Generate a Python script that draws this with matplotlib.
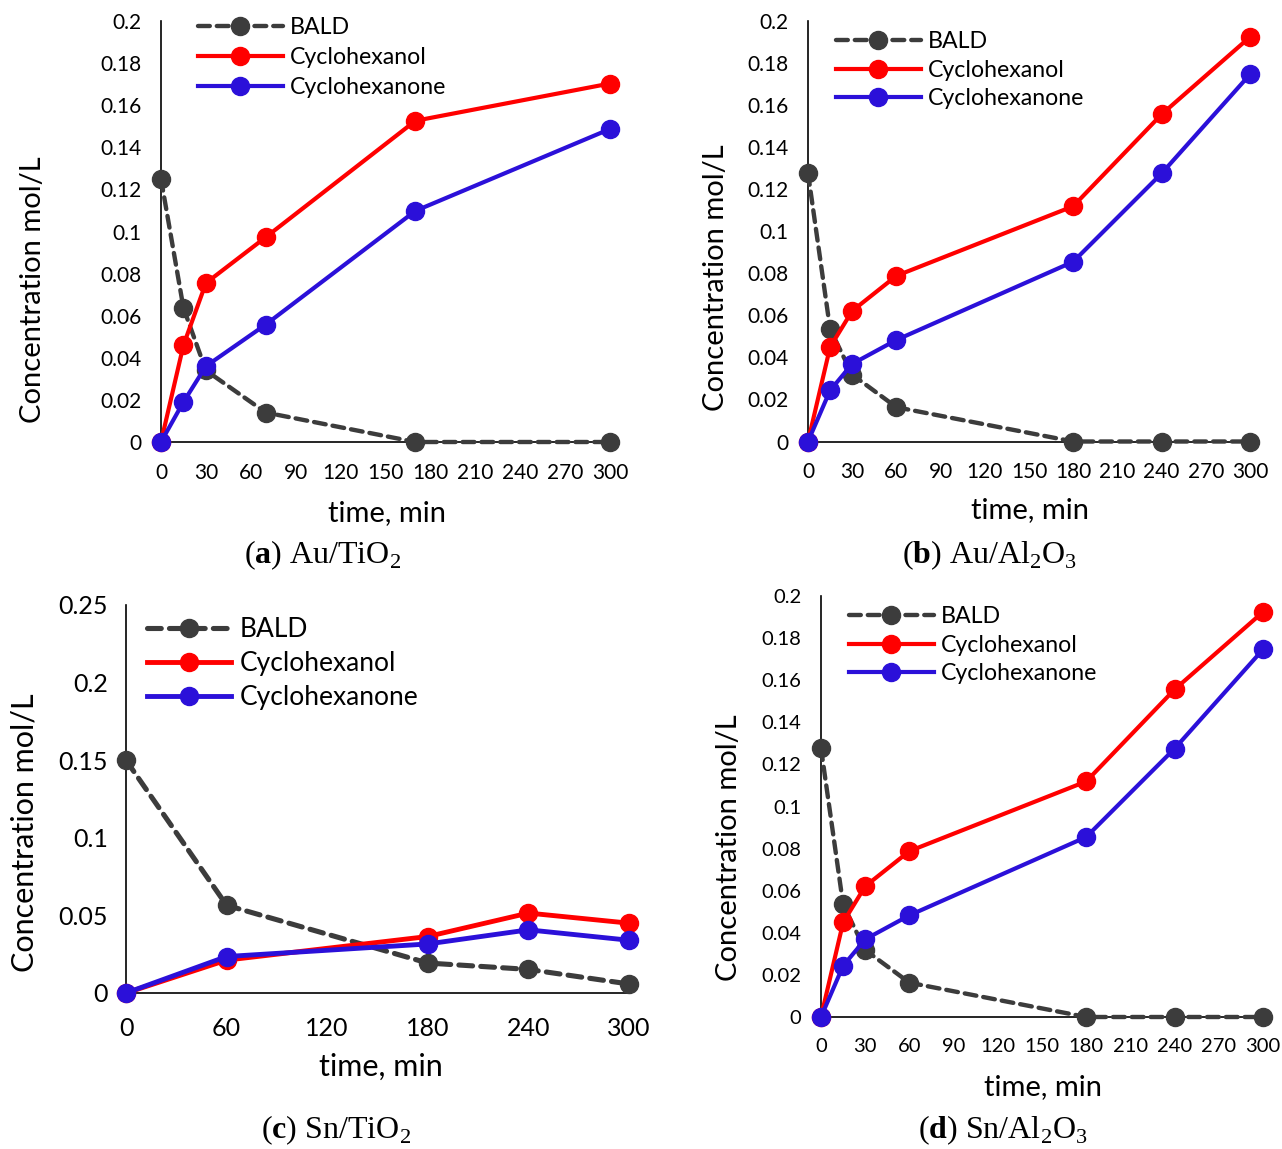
import matplotlib
matplotlib.use("Agg")
import matplotlib.pyplot as plt
from matplotlib.ticker import FixedLocator, FixedFormatter

plt.rcParams['font.family'] = ['Lato', 'DejaVu Sans']
plt.rcParams['mathtext.fontset'] = 'custom'
plt.rcParams['mathtext.rm'] = 'Liberation Serif'
plt.rcParams['mathtext.bf'] = 'Liberation Serif:bold'

series_names = ["BALD", "Cyclohexanol", "Cyclohexanone"]

# (a) Au/TiO2
t_a = [0, 15, 30, 70, 170, 300]
bald_a = [0.125, 0.0637, 0.034, 0.014, 0.0, 0.0]
ol_a = [0.0, 0.046, 0.0755, 0.0973, 0.1526, 0.1703]
one_a = [0.0, 0.019, 0.036, 0.0558, 0.1098, 0.1487]

# (b) Au/Al2O3
t_b = [0, 15, 30, 60, 180, 240, 300]
bald_b = [0.1277, 0.0535, 0.0318, 0.0163, 0.0, 0.0, 0.0]
ol_b = [0.0, 0.0449, 0.0621, 0.0788, 0.1119, 0.1556, 0.1924]
one_b = [0.0, 0.0243, 0.0369, 0.0483, 0.0855, 0.1275, 0.1746]

# (c) Sn/TiO2
t_c = [0, 60, 180, 240, 300]
bald_c = [0.150, 0.0565, 0.0193, 0.0152, 0.0058]
ol_c = [0.0, 0.0212, 0.0364, 0.0515, 0.0450]
one_c = [0.0, 0.0235, 0.0316, 0.0407, 0.0340]

# (d) Sn/Al2O3
t_d = [0, 15, 30, 60, 180, 240, 300]
bald_d = [0.1277, 0.0535, 0.0318, 0.0163, 0.0, 0.0, 0.0]
ol_d = [0.0, 0.0449, 0.0621, 0.0788, 0.1119, 0.1556, 0.1924]
one_d = [0.0, 0.0243, 0.0369, 0.0483, 0.0855, 0.1275, 0.1746]

xticks_fine = [0, 30, 60, 90, 120, 150, 180, 210, 240, 270, 300]
xticks_coarse = [0, 60, 120, 180, 240, 300]
yticks_02 = [0, 0.02, 0.04, 0.06, 0.08, 0.1, 0.12, 0.14, 0.16, 0.18, 0.2]
ylabels_02 = ["0", "0.02", "0.04", "0.06", "0.08", "0.1", "0.12", "0.14", "0.16", "0.18", "0.2"]
yticks_025 = [0, 0.05, 0.1, 0.15, 0.2, 0.25]
ylabels_025 = ["0", "0.05", "0.1", "0.15", "0.2", "0.25"]

captions = [r"($\mathbf{a}$) Au/TiO$_2$", r"($\mathbf{b}$) Au/Al$_2$O$_3$",
            r"($\mathbf{c}$) Sn/TiO$_2$", r"($\mathbf{d}$) Sn/Al$_2$O$_3$"]

W, H = 1282, 1149
fig = plt.figure(figsize=(W / 100, H / 100), dpi=100)

C_BALD = '#3c3c3c'
C_OL = '#ff0000'
C_ONE = '#2b10d9'

def px_axes(x0, x1, ytop, ybot):
    return [x0 / W, 1 - ybot / H, (x1 - x0) / W, (ybot - ytop) / H]

def fx(x):
    return x / W

def fy(y):
    return 1 - y / H

panels = [
    dict(t=t_a, d=(bald_a, ol_a, one_a), box=(161, 610, 21, 442), ymax=0.2,
         yt=yticks_02, yl=ylabels_02, xt=xticks_fine, tfs=15, lw=3, ms=13,
         leg=(198, 17), lfs=16.7, lsp=0.38, hl=3.66, xlab=(387, 513), ylab=(33, 290), alfs=21,
         cap=(323, 555), xpad=15, ypad=14),
    dict(t=t_b, d=(bald_b, ol_b, one_b), box=(808, 1250, 21, 441.5), ymax=0.2,
         yt=yticks_02, yl=ylabels_02, xt=xticks_fine, tfs=15, lw=3, ms=13,
         leg=(836, 31), lfs=16.7, lsp=0.33, hl=3.66, xlab=(1030, 510), ylab=(716, 278), alfs=21,
         cap=(990, 555), xpad=15, ypad=14),
    dict(t=t_c, d=(bald_c, ol_c, one_c), box=(126, 629, 605, 993), ymax=0.25,
         yt=yticks_025, yl=ylabels_025, xt=xticks_coarse, tfs=18, lw=3.5, ms=13,
         leg=(147, 617), lfs=19, lsp=0.35, hl=3.2, xlab=(381, 1067), ylab=(25, 833), alfs=22,
         cap=(336, 1130), xpad=17, ypad=13),
    dict(t=t_d, d=(bald_d, ol_d, one_d), box=(821, 1263, 596, 1017), ymax=0.2,
         yt=yticks_02, yl=ylabels_02, xt=xticks_fine, tfs=14.5, lw=3, ms=13,
         leg=(849, 606), lfs=16.7, lsp=0.33, hl=3.66, xlab=(1043, 1087), ylab=(729, 848), alfs=21,
         cap=(1003, 1130), xpad=15, ypad=14),
]

for i, p in enumerate(panels):
    ax = fig.add_axes(px_axes(*p['box']))
    bald, ol, one = p['d']
    ax.plot(p['t'], bald, color=C_BALD, lw=p['lw'] * 1.05, ls=(0, (2.7, 1.6)),
            dash_capstyle='round', marker='o', ms=p['ms'], mfc=C_BALD, mec=C_BALD,
            clip_on=False, label=series_names[0], zorder=3)
    ax.plot(p['t'], ol, color=C_OL, lw=p['lw'], marker='o', ms=p['ms'],
            mfc=C_OL, mec=C_OL, clip_on=False, label=series_names[1], zorder=4)
    ax.plot(p['t'], one, color=C_ONE, lw=p['lw'], marker='o', ms=p['ms'],
            mfc=C_ONE, mec=C_ONE, clip_on=False, label=series_names[2], zorder=5)
    ax.set_xlim(0, 300)
    ax.set_ylim(0, p['ymax'])
    ax.xaxis.set_major_locator(FixedLocator(p['xt']))
    ax.xaxis.set_major_formatter(FixedFormatter([str(v) for v in p['xt']]))
    ax.yaxis.set_major_locator(FixedLocator(p['yt']))
    ax.yaxis.set_major_formatter(FixedFormatter(p['yl']))
    for s in ['top', 'right']:
        ax.spines[s].set_visible(False)
    for s in ['left', 'bottom']:
        ax.spines[s].set_linewidth(1.2)
        ax.spines[s].set_color('black')
    ax.tick_params(axis='both', length=0, labelsize=p['tfs'], labelcolor='black')
    ax.tick_params(axis='x', pad=p['xpad'])
    ax.tick_params(axis='y', pad=p['ypad'])
    ax.patch.set_alpha(0)
    ax.legend(loc='upper left', bbox_to_anchor=(fx(p['leg'][0]), fy(p['leg'][1])),
              bbox_transform=fig.transFigure, frameon=False, borderpad=0,
              borderaxespad=0, handlelength=p['hl'], handletextpad=0.3,
              labelspacing=p['lsp'], prop={'size': p['lfs']})
    fig.text(fx(p['xlab'][0]), fy(p['xlab'][1]), "time, min", ha='center', va='center',
             fontsize=p['alfs'])
    fig.text(fx(p['ylab'][0]), fy(p['ylab'][1]), "Concentration mol/L", ha='center',
             va='center', rotation=90, fontsize=p['alfs'])
    fig.text(fx(p['cap'][0]), fy(p['cap'][1]), captions[i], ha='center', va='center',
             fontsize=23, family='Liberation Serif')

fig.savefig("out.png", dpi=100)
